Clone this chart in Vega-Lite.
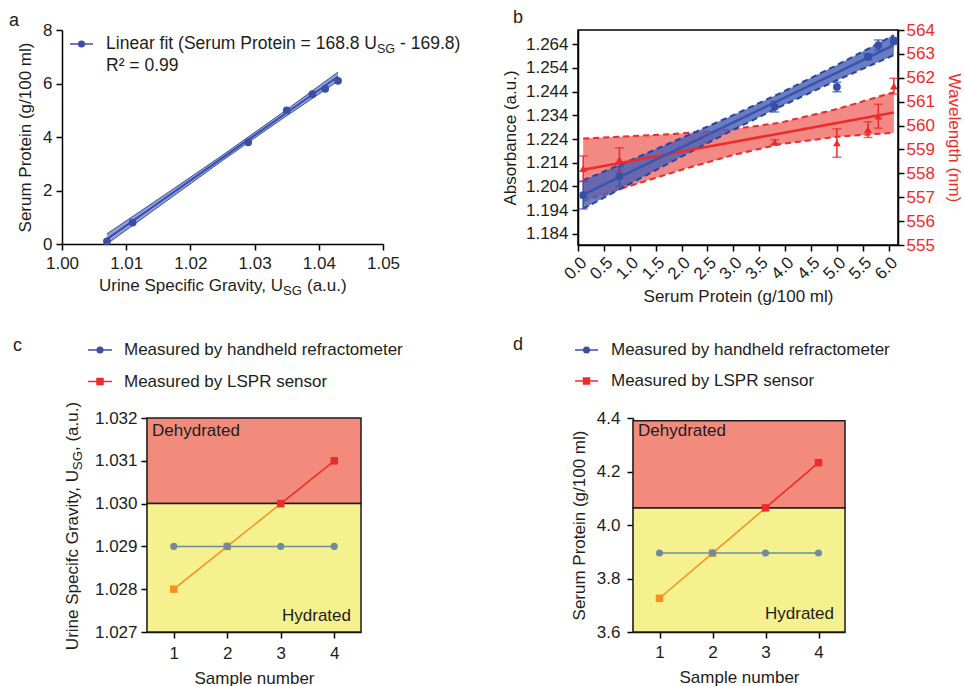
{
  "$schema": "https://vega.github.io/schema/vega-lite/v6.json",
  "padding": {"left": 9, "top": 8, "right": 0, "bottom": 0},
  "autosize": {"type": "pad"},
  "background": "white",
  "columns": 2,
  "bounds": "flush",
  "spacing": {"row": 173, "column": 195},
  "config": {
    "font": "Liberation Sans",
    "view": {"stroke": null},
    "axis": {"labelFont": "Liberation Sans", "titleFont": "Liberation Sans", "labelFontSize": 17, "titleFontSize": 17, "titleFontWeight": "normal", "labelColor": "#1d1d1b", "titleColor": "#1d1d1b", "domainColor": "#000000", "domainWidth": 1.5, "tickColor": "#000000", "tickWidth": 1.5, "tickSize": 6, "grid": false, "labelFlush": false, "labelOverlap": false, "labelBound": false},
    "text": {"font": "Liberation Sans", "fontSize": 17, "color": "#1d1d1b"}
  },
  "datasets": {
    "a_pts": [{"usg": 1.007, "sp": 0.1}, {"usg": 1.011, "sp": 0.8}, {"usg": 1.029, "sp": 3.8}, {"usg": 1.035, "sp": 5.0}, {"usg": 1.039, "sp": 5.6}, {"usg": 1.041, "sp": 5.8}, {"usg": 1.043, "sp": 6.1}],
    "a_fit": [{"usg": 1.007, "fit": 0.18, "lo": 0.0, "hi": 0.38}, {"usg": 1.016, "fit": 1.70, "lo": 1.56, "hi": 1.84}, {"usg": 1.025, "fit": 3.22, "lo": 3.12, "hi": 3.32}, {"usg": 1.034, "fit": 4.74, "lo": 4.63, "hi": 4.85}, {"usg": 1.043, "fit": 6.26, "lo": 6.09, "hi": 6.43}],
    "b_abs": [{"x": 0.1, "y": 1.2003, "err": 0.0058}, {"x": 0.8, "y": 1.2082, "err": 0.0042}, {"x": 3.8, "y": 1.2376, "err": 0.0022}, {"x": 5.0, "y": 1.2460, "err": 0.0020}, {"x": 5.6, "y": 1.2587, "err": 0.0012}, {"x": 5.8, "y": 1.2636, "err": 0.0022}, {"x": 6.1, "y": 1.2654, "err": 0.0015}],
    "b_abs_fit": [{"x": 0.1, "fit": 1.2006, "lo": 1.1946, "hi": 1.2066}, {"x": 1, "fit": 1.2100, "lo": 1.2051, "hi": 1.2149}, {"x": 2, "fit": 1.2205, "lo": 1.2166, "hi": 1.2244}, {"x": 3, "fit": 1.2310, "lo": 1.2279, "hi": 1.2341}, {"x": 3.9, "fit": 1.2405, "lo": 1.2376, "hi": 1.2433}, {"x": 5, "fit": 1.2520, "lo": 1.2488, "hi": 1.2552}, {"x": 6.1, "fit": 1.2636, "lo": 1.2594, "hi": 1.2678}],
    "b_wl": [{"x": 0.1, "y": 558.2, "err": 0.53}, {"x": 0.8, "y": 558.57, "err": 0.5}, {"x": 3.8, "y": 559.31, "err": 0.1}, {"x": 5.0, "y": 559.27, "err": 0.6}, {"x": 5.6, "y": 559.83, "err": 0.33}, {"x": 5.8, "y": 560.39, "err": 0.5}, {"x": 6.1, "y": 561.65, "err": 0.33}],
    "b_wl_fit": [{"x": 0.1, "fit": 558.15, "lo": 556.84, "hi": 559.46}, {"x": 1, "fit": 558.51, "lo": 557.47, "hi": 559.55}, {"x": 2, "fit": 558.91, "lo": 558.15, "hi": 559.67}, {"x": 3, "fit": 559.31, "lo": 558.77, "hi": 559.85}, {"x": 3.9, "fit": 559.67, "lo": 559.22, "hi": 560.12}, {"x": 5, "fit": 560.11, "lo": 559.53, "hi": 560.69}, {"x": 6.1, "fit": 560.55, "lo": 559.70, "hi": 561.40}],
    "c_zones": [{"zone": "Dehydrated", "x1": 0.5, "x2": 4.5, "y1": 1.030, "y2": 1.032}, {"zone": "Hydrated", "x1": 0.5, "x2": 4.5, "y1": 1.027, "y2": 1.030}],
    "c_data": [{"sample": 1, "method": "refractometer", "val": 1.029}, {"sample": 2, "method": "refractometer", "val": 1.029}, {"sample": 3, "method": "refractometer", "val": 1.029}, {"sample": 4, "method": "refractometer", "val": 1.029}, {"sample": 1, "method": "lspr", "val": 1.028}, {"sample": 2, "method": "lspr", "val": 1.029}, {"sample": 3, "method": "lspr", "val": 1.030}, {"sample": 4, "method": "lspr", "val": 1.031}],
    "d_zones": [{"zone": "Dehydrated", "x1": 0.5, "x2": 4.5, "y1": 4.064, "y2": 4.39}, {"zone": "Hydrated", "x1": 0.5, "x2": 4.5, "y1": 3.6, "y2": 4.064}],
    "d_data": [{"sample": 1, "method": "refractometer", "val": 3.895}, {"sample": 2, "method": "refractometer", "val": 3.895}, {"sample": 3, "method": "refractometer", "val": 3.895}, {"sample": 4, "method": "refractometer", "val": 3.895}, {"sample": 1, "method": "lspr", "val": 3.726}, {"sample": 2, "method": "lspr", "val": 3.895}, {"sample": 3, "method": "lspr", "val": 4.064}, {"sample": 4, "method": "lspr", "val": 4.233}]
  },
  "concat": [
    {
      "width": 321, "height": 214,
      "layer": [
        {"data": {"name": "a_fit"}, "mark": {"type": "area", "color": "#7489cf", "opacity": 0.8},
         "encoding": {
           "x": {"field": "usg", "type": "quantitative", "scale": {"domain": [1.0, 1.05], "nice": false, "zero": false}, "axis": {"values": [1.0, 1.01, 1.02, 1.03, 1.04, 1.05], "tickCount": 30, "format": ".2f", "title": null, "labelPadding": 5, "labelOverlap": false}},
           "y": {"field": "lo", "type": "quantitative", "scale": {"domain": [0, 8], "nice": false, "zero": false}, "axis": {"values": [0, 2, 4, 6, 8], "tickCount": 30, "format": "d", "title": "Serum Protein (g/100 ml)", "labelPadding": 4, "titlePadding": 8, "labelOverlap": false}},
           "y2": {"field": "hi"}}},
        {"data": {"name": "a_fit"}, "mark": {"type": "line", "color": "#3b4ea6", "strokeWidth": 1}, "encoding": {"x": {"field": "usg", "type": "quantitative"}, "y": {"field": "lo", "type": "quantitative"}}},
        {"data": {"name": "a_fit"}, "mark": {"type": "line", "color": "#3b4ea6", "strokeWidth": 1}, "encoding": {"x": {"field": "usg", "type": "quantitative"}, "y": {"field": "hi", "type": "quantitative"}}},
        {"data": {"name": "a_fit"}, "mark": {"type": "line", "color": "#3b4ea6", "strokeWidth": 2}, "encoding": {"x": {"field": "usg", "type": "quantitative"}, "y": {"field": "fit", "type": "quantitative"}}},
        {"data": {"name": "a_pts"}, "mark": {"type": "circle", "color": "#3b4ea6", "size": 60, "opacity": 1}, "encoding": {"x": {"field": "usg", "type": "quantitative"}, "y": {"field": "sp", "type": "quantitative"}}},
        {"data": {"values": [{}]}, "mark": {"type": "rule", "color": "#3b4ea6", "strokeWidth": 1.5}, "encoding": {"x": {"datum": 1.001246}, "x2": {"datum": 1.004829}, "y": {"datum": 7.4766}}},
        {"data": {"values": [{}]}, "mark": {"type": "circle", "color": "#3b4ea6", "size": 50, "opacity": 1}, "encoding": {"x": {"datum": 1.003037}, "y": {"datum": 7.4766}}},
        {"data": {"values": [{}]}, "mark": {"type": "text", "align": "right", "baseline": "middle", "fontSize": 17.5}, "encoding": {"x": {"datum": 1.049065}, "y": {"datum": 7.4766}, "text": {"value": "Linear fit (Serum Protein = 168.8 U"}}},
        {"data": {"values": [{}]}, "mark": {"type": "text", "align": "left", "baseline": "middle", "fontSize": 12.5, "dy": 5}, "encoding": {"x": {"datum": 1.049065}, "y": {"datum": 7.4766}, "text": {"value": "SG"}}},
        {"data": {"values": [{}]}, "mark": {"type": "text", "align": "left", "baseline": "middle", "fontSize": 17.5, "dx": 23}, "encoding": {"x": {"datum": 1.049065}, "y": {"datum": 7.4766}, "text": {"value": "- 169.8)"}}},
        {"data": {"values": [{}]}, "mark": {"type": "text", "align": "left", "baseline": "middle", "fontSize": 17.5}, "encoding": {"x": {"datum": 1.006854}, "y": {"datum": 6.654}, "text": {"value": "R² = 0.99"}}},
        {"data": {"values": [{}]}, "mark": {"type": "text", "align": "right", "baseline": "middle", "dy": 42}, "encoding": {"x": {"datum": 1.034424}, "y": {"datum": 0}, "text": {"value": "Urine Specific Gravity, U"}}},
        {"data": {"values": [{}]}, "mark": {"type": "text", "align": "left", "baseline": "middle", "fontSize": 13, "dy": 47}, "encoding": {"x": {"datum": 1.034424}, "y": {"datum": 0}, "text": {"value": "SG"}}},
        {"data": {"values": [{}]}, "mark": {"type": "text", "align": "left", "baseline": "middle", "dx": 24, "dy": 42}, "encoding": {"x": {"datum": 1.034424}, "y": {"datum": 0}, "text": {"value": "(a.u.)"}}},
        {"data": {"values": [{}]}, "mark": {"type": "text", "align": "left", "baseline": "middle", "fontSize": 18, "dx": -53, "dy": -9.5}, "encoding": {"x": {"datum": 1.0}, "y": {"datum": 8}, "text": {"value": "a"}}}
      ]
    },
    {
      "width": 320, "height": 215,
      "view": {"stroke": "#000000", "strokeWidth": 1.5},
      "resolve": {"scale": {"y": "independent"}},
      "layer": [
        {"layer": [
          {"data": {"name": "b_wl_fit"}, "mark": {"type": "area", "color": "#ef6b66", "opacity": 0.8},
           "encoding": {
             "x": {"field": "x", "type": "quantitative", "scale": {"domain": [0, 6.18], "nice": false, "zero": false}, "axis": {"values": [0, 0.5, 1, 1.5, 2, 2.5, 3, 3.5, 4, 4.5, 5, 5.5, 6], "tickCount": 40, "format": ".1f", "labelAngle": -45, "labelPadding": 3, "title": "Serum Protein (g/100 ml)", "titlePadding": 6, "labelOverlap": false}},
             "y": {"field": "lo", "type": "quantitative", "scale": {"domain": [555, 564], "nice": false, "zero": false}, "axis": {"orient": "right", "values": [555, 556, 557, 558, 559, 560, 561, 562, 563, 564], "tickCount": 40, "format": "d", "labelColor": "#ee2a2a", "titleColor": "#ee2a2a", "title": "Wavelength (nm)", "labelPadding": 2, "titlePadding": 10, "labelOverlap": false}},
             "y2": {"field": "hi"}}},
          {"data": {"name": "b_wl_fit"}, "mark": {"type": "line", "color": "#ee2a2a", "strokeWidth": 2, "strokeDash": [6, 4]}, "encoding": {"x": {"field": "x", "type": "quantitative"}, "y": {"field": "lo", "type": "quantitative"}}},
          {"data": {"name": "b_wl_fit"}, "mark": {"type": "line", "color": "#ee2a2a", "strokeWidth": 2, "strokeDash": [6, 4]}, "encoding": {"x": {"field": "x", "type": "quantitative"}, "y": {"field": "hi", "type": "quantitative"}}}
        ]},
        {"layer": [
          {"data": {"name": "b_abs_fit"}, "mark": {"type": "area", "color": "#4a60b4", "opacity": 0.82},
           "encoding": {
             "x": {"field": "x", "type": "quantitative"},
             "y": {"field": "lo", "type": "quantitative", "scale": {"domain": [1.1793, 1.27], "nice": false, "zero": false}, "axis": {"orient": "left", "values": [1.184, 1.194, 1.204, 1.214, 1.224, 1.234, 1.244, 1.254, 1.264], "tickCount": 40, "format": ".3f", "title": "Absorbance (a.u.)", "labelPadding": 4, "titlePadding": 6, "labelOverlap": false}},
             "y2": {"field": "hi"}}},
          {"data": {"name": "b_abs_fit"}, "mark": {"type": "line", "color": "#2b43a0", "strokeWidth": 2, "strokeDash": [6, 4]}, "encoding": {"x": {"field": "x", "type": "quantitative"}, "y": {"field": "lo", "type": "quantitative"}}},
          {"data": {"name": "b_abs_fit"}, "mark": {"type": "line", "color": "#2b43a0", "strokeWidth": 2, "strokeDash": [6, 4]}, "encoding": {"x": {"field": "x", "type": "quantitative"}, "y": {"field": "hi", "type": "quantitative"}}}
        ]},
        {"layer": [
          {"data": {"name": "b_wl_fit"}, "mark": {"type": "line", "color": "#ee2a2a", "strokeWidth": 2.5}, "encoding": {"x": {"field": "x", "type": "quantitative"}, "y": {"field": "fit", "type": "quantitative", "scale": {"domain": [555, 564], "nice": false, "zero": false}, "axis": null}}},
          {"data": {"name": "b_wl"}, "mark": {"type": "errorbar", "ticks": true, "color": "#ee2a2a", "thickness": 1.5, "size": 9}, "encoding": {"x": {"field": "x", "type": "quantitative"}, "y": {"field": "y", "type": "quantitative"}, "yError": {"field": "err"}}},
          {"data": {"name": "b_wl"}, "mark": {"type": "point", "shape": "triangle-up", "filled": true, "color": "#ee2a2a", "size": 60, "opacity": 1}, "encoding": {"x": {"field": "x", "type": "quantitative"}, "y": {"field": "y", "type": "quantitative"}}}
        ]},
        {"layer": [
          {"data": {"name": "b_abs_fit"}, "mark": {"type": "line", "color": "#3a55b0", "strokeWidth": 2.5}, "encoding": {"x": {"field": "x", "type": "quantitative"}, "y": {"field": "fit", "type": "quantitative", "scale": {"domain": [1.1793, 1.27], "nice": false, "zero": false}, "axis": null}}},
          {"data": {"name": "b_abs"}, "mark": {"type": "errorbar", "ticks": true, "color": "#3550a8", "thickness": 1.5, "size": 9}, "encoding": {"x": {"field": "x", "type": "quantitative"}, "y": {"field": "y", "type": "quantitative"}, "yError": {"field": "err"}}},
          {"data": {"name": "b_abs"}, "mark": {"type": "circle", "color": "#3550a8", "size": 60, "opacity": 1}, "encoding": {"x": {"field": "x", "type": "quantitative"}, "y": {"field": "y", "type": "quantitative"}}},
          {"data": {"values": [{}]}, "mark": {"type": "text", "align": "left", "baseline": "middle", "fontSize": 18, "dx": -65, "dy": -12}, "encoding": {"x": {"datum": 0}, "y": {"datum": 1.27}, "text": {"value": "b"}}}
        ]}
      ]
    },
    {
      "width": 299, "height": 214,
      "layer": [
        {"data": {"name": "c_zones"}, "mark": {"type": "rect", "stroke": "#1d1d1b", "strokeWidth": 1.5, "opacity": 1},
         "encoding": {
           "x": {"field": "x1", "type": "quantitative", "scale": {"domain": [0.5, 4.5], "range": [85, 299], "nice": false, "zero": false}, "axis": {"values": [1, 2, 3, 4], "tickCount": 30, "format": "d", "title": "Sample number", "labelPadding": 7, "titlePadding": 9, "labelOverlap": false}},
           "x2": {"field": "x2"},
           "y": {"field": "y1", "type": "quantitative", "scale": {"domain": [1.027, 1.032], "nice": false, "zero": false}, "axis": {"values": [1.027, 1.028, 1.029, 1.03, 1.031, 1.032], "tickCount": 30, "format": ".3f", "title": null, "offset": -85, "labelPadding": 4, "labelOverlap": false}},
           "y2": {"field": "y2"},
           "fill": {"field": "zone", "type": "nominal", "scale": {"domain": ["Dehydrated", "Hydrated"], "range": ["#f28b7c", "#f6f18f"]}, "legend": null}}},
        {"data": {"values": [{}]}, "mark": {"type": "text", "align": "left", "baseline": "middle", "dx": 5, "dy": 13}, "encoding": {"x": {"datum": 0.5}, "y": {"datum": 1.032}, "text": {"value": "Dehydrated"}}},
        {"data": {"values": [{}]}, "mark": {"type": "text", "align": "right", "baseline": "middle", "dx": -10, "dy": -16}, "encoding": {"x": {"datum": 4.5}, "y": {"datum": 1.027}, "text": {"value": "Hydrated"}}},
        {"data": {"name": "c_data"}, "transform": [{"filter": "datum.method === 'lspr'"}], "mark": {"type": "line", "strokeWidth": 1.5, "stroke": {"gradient": "linear", "x1": 0, "y1": 1, "x2": 0, "y2": 0, "stops": [{"offset": 0, "color": "#f7901e"}, {"offset": 0.667, "color": "#f7901e"}, {"offset": 0.667, "color": "#ee2a2a"}, {"offset": 1, "color": "#ee2a2a"}]}}, "encoding": {"x": {"field": "sample", "type": "quantitative"}, "y": {"field": "val", "type": "quantitative"}}},
        {"data": {"name": "c_data"}, "transform": [{"filter": "datum.method === 'lspr'"}], "mark": {"type": "square", "size": 56, "opacity": 1}, "encoding": {"x": {"field": "sample", "type": "quantitative"}, "y": {"field": "val", "type": "quantitative"}, "color": {"condition": {"test": "datum.val >= 1.0299", "value": "#ee2a2a"}, "value": "#f7901e"}}},
        {"data": {"name": "c_data"}, "transform": [{"filter": "datum.method === 'refractometer'"}], "mark": {"type": "line", "color": "#6f8b9d", "strokeWidth": 1.5}, "encoding": {"x": {"field": "sample", "type": "quantitative"}, "y": {"field": "val", "type": "quantitative"}}},
        {"data": {"name": "c_data"}, "transform": [{"filter": "datum.method === 'refractometer'"}], "mark": {"type": "circle", "color": "#6f8b9d", "size": 50, "opacity": 1}, "encoding": {"x": {"field": "sample", "type": "quantitative"}, "y": {"field": "val", "type": "quantitative"}}},
        {"data": {"values": [{}]}, "mark": {"type": "rule", "color": "#3b4ea6", "strokeWidth": 1.5}, "encoding": {"x": {"datum": -0.6028}, "x2": {"datum": -0.1542}, "y": {"datum": 1.0335888}}},
        {"data": {"values": [{}]}, "mark": {"type": "circle", "color": "#3b4ea6", "size": 50, "opacity": 1}, "encoding": {"x": {"datum": -0.3785}, "y": {"datum": 1.0335888}}},
        {"data": {"values": [{}]}, "mark": {"type": "text", "align": "left", "baseline": "middle"}, "encoding": {"x": {"datum": 0.0701}, "y": {"datum": 1.0335888}, "text": {"value": "Measured by handheld refractometer"}}},
        {"data": {"values": [{}]}, "mark": {"type": "rule", "color": "#ee2a2a", "strokeWidth": 1.5}, "encoding": {"x": {"datum": -0.6028}, "x2": {"datum": -0.1542}, "y": {"datum": 1.0328528}}},
        {"data": {"values": [{}]}, "mark": {"type": "square", "color": "#ee2a2a", "size": 56, "opacity": 1}, "encoding": {"x": {"datum": -0.3785}, "y": {"datum": 1.0328528}}},
        {"data": {"values": [{}]}, "mark": {"type": "text", "align": "left", "baseline": "middle"}, "encoding": {"x": {"datum": 0.0701}, "y": {"datum": 1.0328528}, "text": {"value": "Measured by LSPR sensor"}}},
        {"data": {"values": [{}]}, "mark": {"type": "text", "align": "left", "baseline": "middle", "fontSize": 18, "dx": -134, "dy": -72}, "encoding": {"x": {"datum": 0.5}, "y": {"datum": 1.032}, "text": {"value": "c"}}},
        {"data": {"values": [{}]}, "mark": {"type": "text", "angle": 270, "align": "right", "baseline": "middle", "dx": 162, "dy": -74}, "encoding": {"x": {"datum": 0.5}, "y": {"datum": 1.027}, "text": {"value": "Urine Specifc Gravity, U"}}},
        {"data": {"values": [{}]}, "mark": {"type": "text", "angle": 270, "align": "left", "baseline": "middle", "fontSize": 13, "dx": 162, "dy": -69}, "encoding": {"x": {"datum": 0.5}, "y": {"datum": 1.027}, "text": {"value": "SG"}}},
        {"data": {"values": [{}]}, "mark": {"type": "text", "angle": 270, "align": "left", "baseline": "middle", "dx": 181, "dy": -74}, "encoding": {"x": {"datum": 0.5}, "y": {"datum": 1.027}, "text": {"value": ", (a.u.)"}}}
      ]
    },
    {
      "width": 267, "height": 214,
      "layer": [
        {"data": {"name": "d_zones"}, "mark": {"type": "rect", "stroke": "#1d1d1b", "strokeWidth": 1.5, "opacity": 1},
         "encoding": {
           "x": {"field": "x1", "type": "quantitative", "scale": {"domain": [0.5, 4.5], "range": [55, 267], "nice": false, "zero": false}, "axis": {"values": [1, 2, 3, 4], "tickCount": 30, "format": "d", "title": "Sample number", "labelPadding": 6, "titlePadding": 9, "labelOverlap": false}},
           "x2": {"field": "x2"},
           "y": {"field": "y1", "type": "quantitative", "scale": {"domain": [3.6, 4.4], "nice": false, "zero": false}, "axis": {"values": [3.6, 3.8, 4.0, 4.2, 4.4], "tickCount": 30, "format": ".1f", "title": "Serum Protein (g/100 ml)", "offset": -55, "labelPadding": 7, "titlePadding": 8, "labelOverlap": false}},
           "y2": {"field": "y2"},
           "fill": {"field": "zone", "type": "nominal", "scale": {"domain": ["Dehydrated", "Hydrated"], "range": ["#f28b7c", "#f6f18f"]}, "legend": null}}},
        {"data": {"values": [{}]}, "mark": {"type": "text", "align": "left", "baseline": "middle", "dx": 5, "dy": 13}, "encoding": {"x": {"datum": 0.5}, "y": {"datum": 4.4}, "text": {"value": "Dehydrated"}}},
        {"data": {"values": [{}]}, "mark": {"type": "text", "align": "right", "baseline": "middle", "dx": -11, "dy": -18}, "encoding": {"x": {"datum": 4.5}, "y": {"datum": 3.6}, "text": {"value": "Hydrated"}}},
        {"data": {"name": "d_data"}, "transform": [{"filter": "datum.method === 'lspr'"}], "mark": {"type": "line", "strokeWidth": 1.5, "stroke": {"gradient": "linear", "x1": 0, "y1": 1, "x2": 0, "y2": 0, "stops": [{"offset": 0, "color": "#f7901e"}, {"offset": 0.667, "color": "#f7901e"}, {"offset": 0.667, "color": "#ee2a2a"}, {"offset": 1, "color": "#ee2a2a"}]}}, "encoding": {"x": {"field": "sample", "type": "quantitative"}, "y": {"field": "val", "type": "quantitative"}}},
        {"data": {"name": "d_data"}, "transform": [{"filter": "datum.method === 'lspr'"}], "mark": {"type": "square", "size": 56, "opacity": 1}, "encoding": {"x": {"field": "sample", "type": "quantitative"}, "y": {"field": "val", "type": "quantitative"}, "color": {"condition": {"test": "datum.val >= 4.06", "value": "#ee2a2a"}, "value": "#f7901e"}}},
        {"data": {"name": "d_data"}, "transform": [{"filter": "datum.method === 'refractometer'"}], "mark": {"type": "line", "color": "#6f8b9d", "strokeWidth": 1.5}, "encoding": {"x": {"field": "sample", "type": "quantitative"}, "y": {"field": "val", "type": "quantitative"}}},
        {"data": {"name": "d_data"}, "transform": [{"filter": "datum.method === 'refractometer'"}], "mark": {"type": "circle", "color": "#6f8b9d", "size": 50, "opacity": 1}, "encoding": {"x": {"field": "sample", "type": "quantitative"}, "y": {"field": "val", "type": "quantitative"}}},
        {"data": {"values": [{}]}, "mark": {"type": "rule", "color": "#3b4ea6", "strokeWidth": 1.5}, "encoding": {"x": {"datum": -0.5943}, "x2": {"datum": -0.1604}, "y": {"datum": 4.6542}}},
        {"data": {"values": [{}]}, "mark": {"type": "circle", "color": "#3b4ea6", "size": 50, "opacity": 1}, "encoding": {"x": {"datum": -0.3774}, "y": {"datum": 4.6542}}},
        {"data": {"values": [{}]}, "mark": {"type": "text", "align": "left", "baseline": "middle"}, "encoding": {"x": {"datum": 0.0849}, "y": {"datum": 4.6542}, "text": {"value": "Measured by handheld refractometer"}}},
        {"data": {"values": [{}]}, "mark": {"type": "rule", "color": "#ee2a2a", "strokeWidth": 1.5}, "encoding": {"x": {"datum": -0.5943}, "x2": {"datum": -0.1604}, "y": {"datum": 4.5383}}},
        {"data": {"values": [{}]}, "mark": {"type": "square", "color": "#ee2a2a", "size": 56, "opacity": 1}, "encoding": {"x": {"datum": -0.3774}, "y": {"datum": 4.5383}}},
        {"data": {"values": [{}]}, "mark": {"type": "text", "align": "left", "baseline": "middle"}, "encoding": {"x": {"datum": 0.0849}, "y": {"datum": 4.5383}, "text": {"value": "Measured by LSPR sensor"}}},
        {"data": {"values": [{}]}, "mark": {"type": "text", "align": "left", "baseline": "middle", "fontSize": 18, "dx": -120, "dy": -73}, "encoding": {"x": {"datum": 0.5}, "y": {"datum": 4.4}, "text": {"value": "d"}}}
      ]
    }
  ]
}
